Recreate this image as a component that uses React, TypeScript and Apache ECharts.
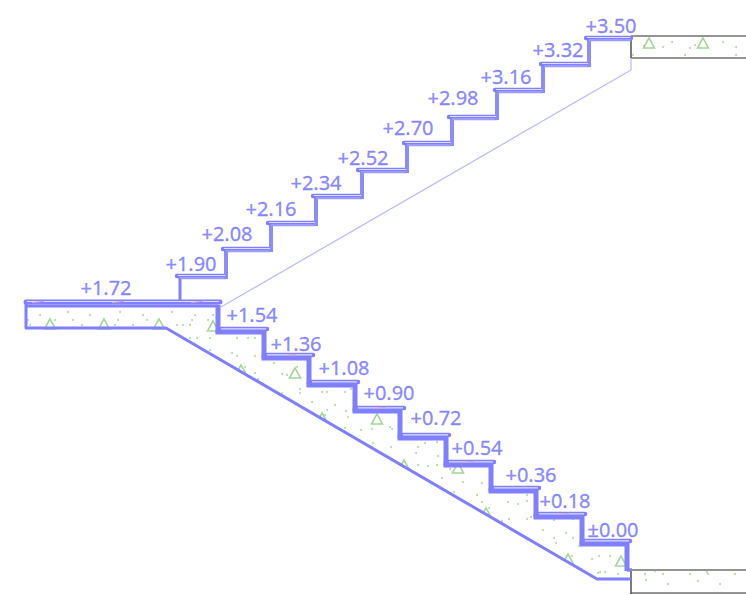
import React, { useEffect, useRef } from "react";
import * as echarts from "echarts";

type P = [number, number];

// Elevation labels: text and anchor in drawing units
const levelLabels = ["+3.50","+3.32","+3.16","+2.98","+2.70","+2.52","+2.34","+2.16","+2.08","+1.90","+1.72","+1.54","+1.36","+1.08","+0.90","+0.72","+0.54","+0.36","+0.18","±0.00"];
const levelX = [611,558,506,453,408,363,316,271,227,191,106,252,296,344,389,436,477,531,565,613];
const levelY = [25,49,76,97,127,157,182,208,233,263,287,314,343,367,392,417,447,474,500,529];

// Lower flight: tread start, nosing, height
const lowerStart = [218,264,309,355,400,446,491,536,582];
const lowerNose = [267,313,358,404,449,494,539,585,630];
const lowerY = [329,355,382,408,435,462,488,514,541];

// Upper flight: nosing, tread end, height
const upperNose = [177,223,268,313,358,404,449,495,541,586];
const upperEnd = [226,271,316,362,407,452,497,543,589,631];
const upperY = [276,249,223,196,170,143,117,90,64,38];

const soffit: P[] = [[26,303],[26,328],[166,328],[597,579],[631,579]];
const soffitMask: P[] = [[166,328],[597,579],[597,595],[166,595]];
const underside: P[] = [[221,307],[631,70],[631,58]];

const triangles: P[] = [[50,324],[104,324],[159,324],[213,326],[241,370],[295,373],[322,418],[377,419],[404,465],[458,468],[486,513],[568,559],[621,561],[649,43],[703,43]];
const dots: P[] = [
  [28,320],[30,325],[40,315],[55,320],[68,312],[73,320],[82,325],[90,315],[115,325],[120,312],[118,320],[133,325],[143,315],[147,320],[172,312],[177,325],[183,325],[192,320],[195,315],[190,325],[208,320],[213,315],
  [190,338],[197,338],[210,338],[237,338],[248,338],[255,338],[210,350],[232,353],[237,356],[255,356],[274,363],[245,367],[282,374],[287,375],[255,373],[258,379],[282,393],[297,367],
  [300,389],[300,393],[312,402],[322,392],[327,392],[345,392],[351,389],[335,405],[327,410],[325,415],[346,411],[348,417],[345,428],[361,430],[372,429],[390,427],[392,429],[373,443],[372,447],[391,447],[416,453],[418,447],[425,443],[437,442],[438,456],[418,465],[428,466],[437,465],[450,469],[480,466],[442,478],[463,482],[482,483],[432,483],[437,487],
  [454,492],[477,495],[482,502],[508,502],[527,495],[527,501],[518,504],[489,508],[502,521],[509,519],[527,519],[531,517],[554,520],[573,519],[543,530],[554,538],[556,543],[566,533],[573,538],[579,546],[572,556],[592,559],[582,569],[598,573],[599,556],[610,556],[600,572],[605,572],[618,574],
  [645,574],[646,580],[655,571],[663,574],[668,584],[690,574],[698,581],[707,572],[708,574],[720,584],[735,574],[645,593],[663,593],[690,593],[708,593],[735,593],
  [644,46],[663,47],[672,42],[690,48],[695,45],[723,42],[736,47],[633,55],[685,55],[736,55]
];
const hatchMarks: P[] = [[38,302],[118,302],[197,302],[290,355],[380,408],[468,462],[563,514]];

const BLUE = "#7f7fff";
const PALE = "#dcdcff";

function seg(data: P[], width: number, color: string, z: number, cap = "butt") {
  return {
    type: "line", data, z, silent: true, showSymbol: false, symbol: "none", clip: false,
    lineStyle: { width, color, cap, join: "round" },
  };
}

export default function App() {
  const ref = useRef<HTMLDivElement>(null);
  useEffect(() => {
    const chart = echarts.init(ref.current!, undefined, { renderer: "svg" });
    const series: any[] = [];

    // Concrete hatch
    series.push({
      type: "scatter", data: dots, symbol: "circle", symbolSize: 2, z: 2, silent: true,
      itemStyle: { color: "#98d28a" },
    });
    series.push({
      type: "scatter", data: triangles, symbol: "triangle", symbolSize: [11, 10], z: 2, silent: true,
      itemStyle: { color: "rgba(255,255,255,0)", borderColor: "#8ccb7d", borderWidth: 1.6 },
    });
    // Mask below the soffit
    series.push({
      type: "custom", data: [soffitMask[0]], z: 3, silent: true, clip: false,
      renderItem: (_p: any, api: any) => ({
        type: "polygon",
        shape: { points: soffitMask.map((p) => api.coord(p)) },
        style: { fill: "#ffffff" },
      }),
    });

    // Floors
    series.push(seg([[631,36],[746,36]], 1.8, "#959595", 4));
    series.push(seg([[631,58],[746,58]], 1.8, "#959595", 4));
    series.push(seg([[631,36],[631,58]], 1.4, "#444444", 5));
    series.push(seg([[631,570],[746,570]], 1.8, "#959595", 4));
    series.push(seg([[631,593],[746,593]], 1.8, "#959595", 4));
    series.push(seg([[631,570],[631,594]], 1.4, "#444444", 5));

    // Underside of the upper flight
    series.push(seg(underside, 1.3, "#bcbcff", 4));

    // Landing and soffit
    series.push(seg(soffit, 3, BLUE, 6));
    series.push(seg([[26,302],[220,302]], 5, BLUE, 6, "round"));
    series.push(seg([[27,301.5],[219,301.5]], 1.2, PALE, 7));
    series.push(seg([[26,306],[218,306]], 3, BLUE, 7));
    series.push(seg([[218,305],[218,333]], 5, BLUE, 7));
    series.push(seg([[180,300],[180,277]], 3, BLUE, 6));

    // Lower flight
    lowerY.forEach((y, i) => {
      series.push(seg([[lowerStart[i], y], [lowerNose[i], y]], 4.5, BLUE, 6, "round"));
      series.push(seg([[lowerStart[i] + 3, y - 0.2], [lowerNose[i] - 1, y - 0.2]], 1.2, PALE, 7));
      const riserX = lowerStart[i + 1] ?? 627;
      const nextY = lowerY[i + 1] ?? 568;
      series.push(seg([[lowerStart[i] - 2.5, y + 3], [riserX, y + 3], [riserX, nextY + 3]], 5, BLUE, 6));
    });
    series.push(seg([[627,570],[632,570]], 3.5, BLUE, 6));

    // Upper flight
    upperY.forEach((y, i) => {
      series.push(seg([[upperNose[i], y], [upperEnd[i], y]], 4.4, BLUE, 6, "round"));
      series.push(seg([[upperNose[i] + 1, y - 0.5], [upperEnd[i] - 1, y - 0.5]], 1.1, PALE, 7));
      series.push(seg([[upperNose[i] + 3, y + 2.2], [upperEnd[i], y + 2.2]], 2.2, "#9c9cff", 6));
      if (i + 1 < upperY.length) {
        series.push(seg([[upperEnd[i], y + 3], [upperEnd[i], upperY[i + 1]]], 4, "#8c8cff", 6));
      }
    });

    // Small hatch strokes inside the treads
    hatchMarks.forEach(([x, y]) => {
      series.push(seg([[x - 6, y + 0.7], [x + 6, y - 0.7]], 1, "#d4a8b4", 8));
    });

    // Elevation labels
    series.push({
      type: "scatter", symbolSize: 0, z: 10, silent: true,
      data: levelLabels.map((name, i) => ({ name, value: [levelX[i], levelY[i]] })),
      label: {
        show: true, position: "inside", formatter: "{b}",
        fontFamily: "Noto Sans", fontSize: 20, color: "#6c6cff",
        textBorderColor: "#6c6cff", textBorderWidth: 0.3,
      },
    });

    chart.setOption({
      animation: false,
      backgroundColor: "#ffffff",
      grid: { left: 0, right: 0, top: 0, bottom: 0 },
      xAxis: { type: "value", min: 0, max: 746, show: false },
      yAxis: { type: "value", min: 0, max: 595, inverse: true, show: false },
      series,
    });
    return () => chart.dispose();
  }, []);
  return <div ref={ref} style={{ position: "absolute", left: 0, top: 0, width: 746, height: 595 }} />;
}
